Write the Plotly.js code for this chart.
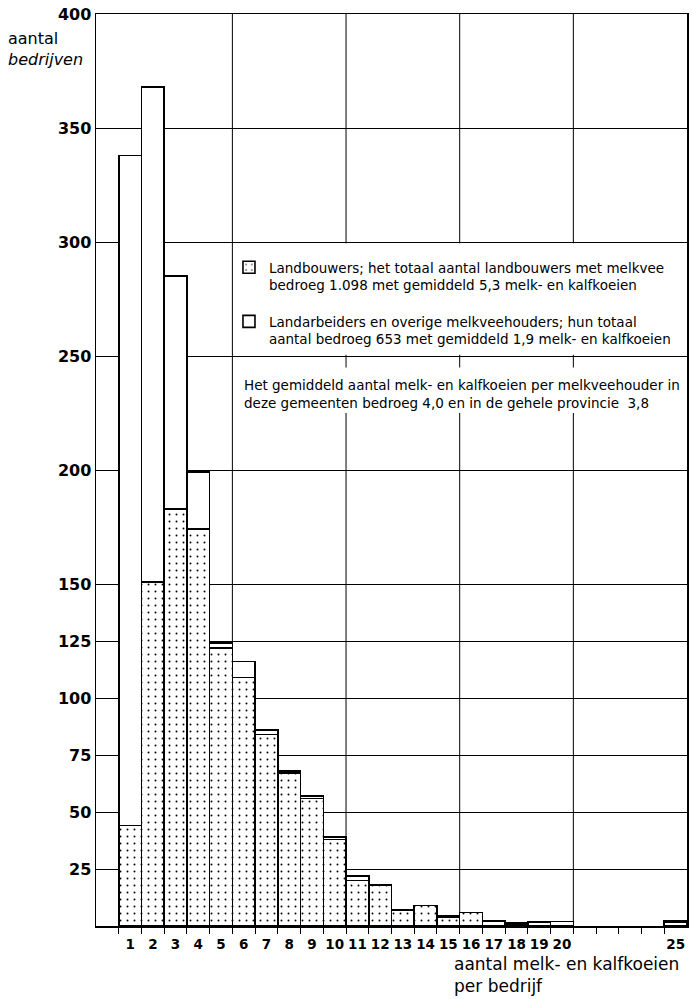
<!DOCTYPE html>
<html>
<head>
<meta charset="utf-8">
<script src="https://cdn.plot.ly/plotly-3.0.1.min.js"></script>
<style>html,body{margin:0;padding:0;background:#fff;}</style>
</head>
<body>
<div id="chart" style="width:692px;height:999px;"></div>
<script>
// ---- data ----
const counts = [1,2,3,4,5,6,7,8,9,10,11,12,13,14,15,16,17,18,19,20,25];
const countLabels = ['1','2','3','4','5','6','7','8','9','10','11','12','13','14','15','16','17','18','19','20','25'];
const landbouwers = [44,151,183,174,122,109,84,67,56,38,20,18,7,9,4,6,2,1,1.5,2,1.5];
const overige     = [294,217,102,25,2,7,2,1,1,1,2,0,0,0,0.5,0,0.5,0.5,0.3,0,0.8];
const yTickVals = [25,50,75,100,125,150,200,250,300,350,400];
const xBoundaryTicks = [0.5,1.5,2.5,3.5,4.5,5.5,6.5,7.5,8.5,9.5,10.5,11.5,12.5,13.5,14.5,15.5,16.5,17.5,18.5,19.5,20.5,21.5,22.5,23.5,24.5];
const xGridVals = [5.5,10.5,15.5,20.5];
const nameLandbouwers = 'Landbouwers; het totaal aantal landbouwers met melkvee<br>bedroeg 1.098 met gemiddeld 5,3 melk- en kalfkoeien';
const nameOverige = 'Landarbeiders en overige melkveehouders; hun totaal<br>aantal bedroeg 653 met gemiddeld 1,9 melk- en kalfkoeien';
const noteText = 'Het gemiddeld aantal melk- en kalfkoeien per melkveehouder in<br>deze gemeenten bedroeg 4,0 en in de gehele provincie  3,8';

const F = 'DejaVu Sans';

const traces = [
  {
    type: 'bar', x: counts, y: landbouwers, name: nameLandbouwers, legendgroup: 'a',
    width: 1, hoverinfo: 'skip',
    marker: {
      color: 'white', line: {color: 'black', width: 1.6},
      pattern: {shape: '.', fgcolor: 'black', bgcolor: 'white', size: 7, solidity: 0.06, fillmode: 'replace'}
    }
  },
  {
    type: 'bar', x: counts, y: overige, name: nameOverige, legendgroup: 'b',
    width: 1, hoverinfo: 'skip',
    marker: {color: 'white', line: {color: 'black', width: 1.6}}
  }
];

const shapes = xGridVals.map(v => ({
  type: 'line', xref: 'x', yref: 'y', x0: v, x1: v, y0: 0, y1: 400,
  line: {color: 'black', width: 1}, layer: 'between'
}));
// white panels behind legend and note
shapes.push({type:'rect', xref:'x', yref:'y', x0:5.56, x1:25.45, y0:250.5, y1:299.5, fillcolor:'white', line:{width:0}, layer:'above'});
shapes.push({type:'rect', xref:'x', yref:'y', x0:5.56, x1:25.45, y0:225, y1:245, fillcolor:'white', line:{width:0}, layer:'above'});

const layout = {
  width: 692, height: 999,
  margin: {l: 96, r: 5, t: 14, b: 73, autoexpand: false},
  paper_bgcolor: 'white', plot_bgcolor: 'white',
  barmode: 'stack', bargap: 0,
  showlegend: true,
  legend: {
    x: 0.225, y: 0.739, xanchor: 'left', yanchor: 'top',
    bgcolor: 'rgba(0,0,0,0)', borderwidth: 0,
    font: {family: F, size: 13.5, color: 'black'},
    traceorder: 'grouped', valign: 'top', tracegroupgap: 16
  },
  xaxis: {
    range: [-0.5, 25.5], tickmode: 'array', tickvals: counts, ticktext: countLabels,
    ticks: '', showgrid: false, zeroline: false,
    showline: true, mirror: true, linecolor: 'black', linewidth: 1.5,
    tickfont: {family: F, size: 13.5, weight: 'bold', color: 'black'},
    ticklabelstandoff: 5, automargin: false,
    minor: {tickmode: 'array', tickvals: xBoundaryTicks, ticks: 'outside', ticklen: 6, tickwidth: 1, tickcolor: 'black', showgrid: false}
  },
  yaxis: {
    range: [0, 400], tickmode: 'array', tickvals: yTickVals,
    ticks: '', showgrid: true, gridcolor: 'black', gridwidth: 1, zeroline: false,
    showline: true, mirror: true, linecolor: 'black', linewidth: 1.5, automargin: false,
    tickfont: {family: F, size: 16, weight: 'bold', color: 'black'}
  },
  shapes: shapes,
  annotations: [
    {text: 'aantal<br><i>bedrijven</i>', xref: 'paper', yref: 'paper', x: -0.1523, y: 0.9857, xanchor: 'left', yanchor: 'top', align: 'left', showarrow: false, font: {family: F, size: 16, color: 'black'}},
    {text: 'aantal melk- en kalfkoeien<br>per bedrijf', xref: 'paper', yref: 'paper', x: 0.6024, y: -0.028, xanchor: 'left', yanchor: 'top', align: 'left', showarrow: false, font: {family: F, size: 17, color: 'black'}},
    {text: noteText, xref: 'paper', yref: 'paper', x: 0.2465, y: 0.6047, xanchor: 'left', yanchor: 'top', align: 'left', showarrow: false, font: {family: F, size: 13.5, color: 'black'}}
  ]
};

Plotly.newPlot('chart', traces, layout, {staticPlot: true, displayModeBar: false});
</script>
</body>
</html>
